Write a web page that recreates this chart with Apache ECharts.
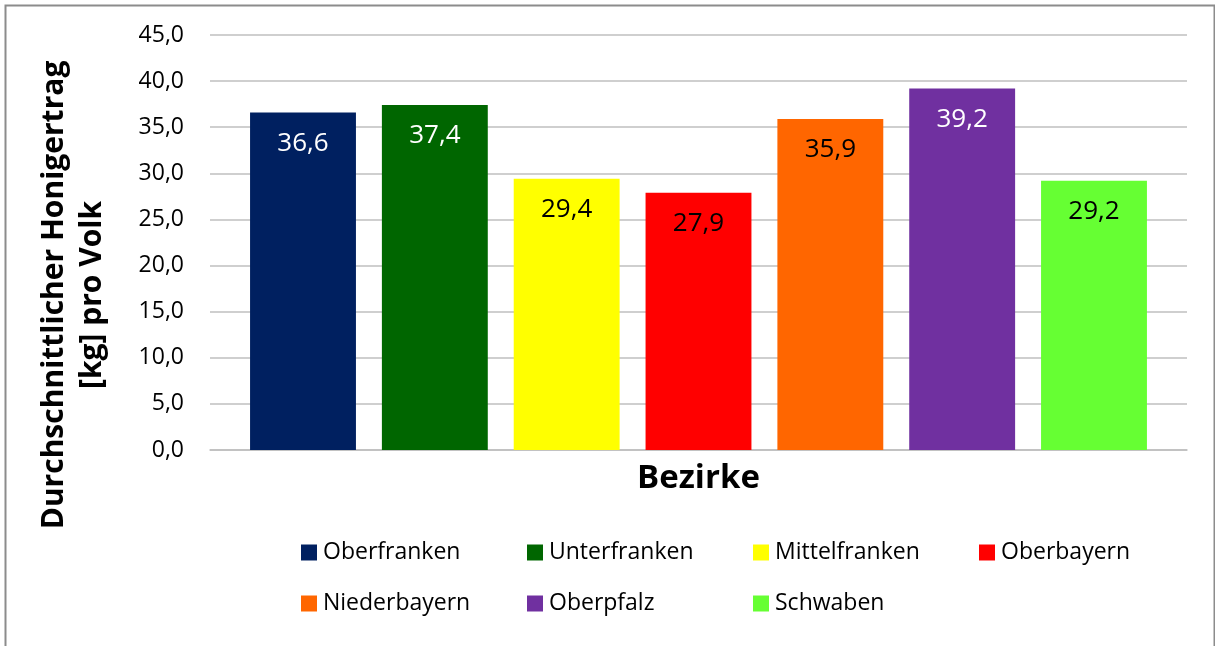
<!DOCTYPE html>
<html>
<head>
<meta charset="utf-8">
<script src="https://cdn.jsdelivr.net/npm/echarts@6/dist/echarts.min.js"></script>
<style>
  html, body { margin: 0; padding: 0; background: #fff; }
  #chart { width: 1215px; height: 646px; }
</style>
</head>
<body>
<div id="chart"></div>
<script>
// Bezirke und durchschnittlicher Honigertrag [kg] pro Volk
var bezirke = ['Oberfranken', 'Unterfranken', 'Mittelfranken', 'Oberbayern', 'Niederbayern', 'Oberpfalz', 'Schwaben']
var ertrag = [36.6, 37.4, 29.4, 27.9, 35.9, 39.2, 29.2]
var yTicks = { min: 0, max: 45, interval: 5 }

var farben = ['#002060', '#006600', '#FFFF00', '#FF0000', '#FF6600', '#7030A0', '#66FF33']
var labelFarben = ['#fff', '#fff', '#000', '#000', '#000', '#fff', '#000']

var FONT = 'Open Sans'

function komma(v) {
  return Number(v).toFixed(1).replace('.', ',')
}

var chart = echarts.init(document.getElementById('chart'))

var series = bezirke.map(function(name, i) {
  return {
    name: name,
    type: 'bar',
    data: [ertrag[i]],
    barGap: '24.5%',
    barCategoryGap: '8.2%',
    itemStyle: { color: farben[i] },
    label: {
      show: true,
      position: 'insideTop',
      distance: 18,
      color: labelFarben[i],
      fontFamily: FONT,
      fontSize: 26,
      formatter: function(p) { return komma(p.value) }
    }
  }
})

// one legend per item so the columns line up like in the original
var legends = bezirke.map(function(name, i) {
  var col = i % 4
  var row = Math.floor(i / 4)
  return {
    data: [name],
    left: 301 + col * 226,
    top: 541 + row * 51,
    padding: 0,
    icon: 'rect',
    itemWidth: 16,
    itemHeight: 16,
    textStyle: {
      fontFamily: FONT,
      fontSize: 23,
      color: '#000',
      padding: [0, 0, 0, 1]
    }
  }
})

chart.setOption({
  animation: false,
  backgroundColor: '#fff',
  grid: {
    left: 210,
    right: 28,
    top: 35,
    bottom: 196
  },
  legend: legends,
  xAxis: {
    type: 'category',
    data: [''],
    name: 'Bezirke',
    nameLocation: 'middle',
    nameGap: 12,
    nameTextStyle: {
      fontFamily: FONT,
      fontSize: 33,
      fontWeight: 'bold',
      color: '#000'
    },
    axisLine: { lineStyle: { color: '#bfbfbf', width: 1.5 } },
    axisTick: { show: false },
    axisLabel: { show: false }
  },
  yAxis: {
    type: 'value',
    min: yTicks.min,
    max: yTicks.max,
    interval: yTicks.interval,
    axisLine: { show: false },
    axisTick: { show: false },
    axisLabel: {
      margin: 26,
      fontFamily: FONT,
      fontSize: 23,
      color: '#000',
      formatter: komma
    },
    splitLine: { lineStyle: { color: '#bfbfbf', width: 1.5 } }
  },
  graphic: [
    {
      type: 'rect',
      silent: true,
      shape: { x: 5.5, y: 5.5, width: 1209, height: 700 },
      style: { fill: 'none', stroke: '#8c8c8c', lineWidth: 2 }
    },
    {
      type: 'text',
      silent: true,
      x: 73,
      y: 295,
      rotation: Math.PI / 2,
      style: {
        text: 'Durchschnittlicher Honigertrag\n[kg] pro Volk',
        fontFamily: FONT,
        fontSize: 30,
        fontWeight: 'bold',
        lineHeight: 38,
        fill: '#000',
        align: 'center',
        verticalAlign: 'middle'
      }
    }
  ],
  series: series
})
</script>
</body>
</html>
